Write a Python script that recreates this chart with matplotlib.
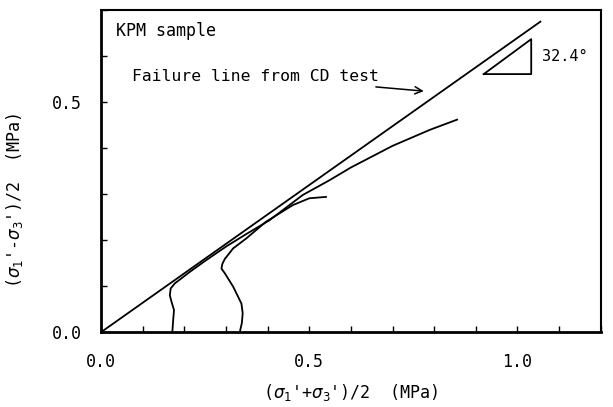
import numpy as np
import matplotlib
matplotlib.use('Agg')
import matplotlib.pyplot as plt
from matplotlib.ticker import MultipleLocator

plt.rcParams['font.family'] = ['DejaVu Sans Mono']
plt.rcParams['mathtext.fontset'] = 'dejavusans'

# failure line from CD test (p', q) end points, MPa
fail_p = [0.0, 1.055]
fail_q = [0.0, 0.675]

# stress path 1 (p0 ~ 0.17 MPa)
path1_p = [0.171, 0.173, 0.175, 0.169, 0.165, 0.167, 0.177, 0.193, 0.213, 0.25, 0.30,
           0.35, 0.404, 0.484, 0.548, 0.60, 0.70, 0.79, 0.855]
path1_q = [0.0, 0.026, 0.048, 0.066, 0.080, 0.095, 0.106, 0.117, 0.131, 0.155, 0.186,
           0.214, 0.243, 0.298, 0.330, 0.358, 0.405, 0.440, 0.462]

# stress path 2 (p0 ~ 0.33 MPa)
path2_p = [0.333, 0.338, 0.340, 0.337, 0.317, 0.297, 0.289, 0.291, 0.297, 0.317, 0.349,
           0.396, 0.460, 0.50, 0.540]
path2_q = [0.0, 0.020, 0.041, 0.062, 0.099, 0.128, 0.138, 0.148, 0.159, 0.182, 0.204,
           0.240, 0.276, 0.291, 0.294]

# slope triangle
tri_p = [0.919, 1.033, 1.033, 0.919]
tri_q = [0.561, 0.561, 0.637, 0.561]

fig = plt.figure(figsize=(6.13, 4.07), dpi=100)
ax = fig.add_axes([0.165, 0.184, 0.815, 0.791])

ax.plot(fail_p, fail_q, color='black', lw=1.3)
ax.plot(path1_p, path1_q, color='black', lw=1.3)
ax.plot(path2_p, path2_q, color='black', lw=1.3)
ax.plot(tri_p, tri_q, color='black', lw=1.3)

ax.text(1.058, 0.60, '32.4°', fontsize=11, va='center', ha='left')
ax.text(0.035, 0.655, 'KPM sample', fontsize=12, va='center', ha='left')
ax.annotate('Failure line from CD test', xy=(0.775, 0.524), xytext=(0.668, 0.556),
            fontsize=11.8, va='center', ha='right',
            arrowprops=dict(arrowstyle='->', lw=1.1, color='black',
                            mutation_scale=13, shrinkA=2, shrinkB=0))

ax.set_xlim(0, 1.2)
ax.set_ylim(0, 0.70)
ax.set_xticks([0.0, 0.5, 1.0])
ax.set_xticklabels(['0.0', '0.5', '1.0'])
ax.set_yticks([0.0, 0.5])
ax.set_yticklabels(['0.0', '0.5'])
ax.xaxis.set_minor_locator(MultipleLocator(0.1))
ax.yaxis.set_minor_locator(MultipleLocator(0.1))
ax.tick_params(which='both', direction='in', length=4, width=1, labelsize=12)
ax.tick_params(axis='x', which='major', pad=15)
ax.tick_params(axis='y', which='major', pad=14)

for side in ['left', 'bottom']:
    ax.spines[side].set_linewidth(2)
for side in ['top', 'right']:
    ax.spines[side].set_linewidth(1.5)

ax.set_xlabel(r"($\sigma_1$'+$\sigma_3$')/2  (MPa)", fontsize=12)
ax.set_ylabel(r"($\sigma_1$'-$\sigma_3$')/2  (MPa)", fontsize=12)
ax.xaxis.set_label_coords(0.5, -0.155)
ax.yaxis.set_label_coords(-0.152, 0.41)

fig.savefig('out.png', dpi=100)
